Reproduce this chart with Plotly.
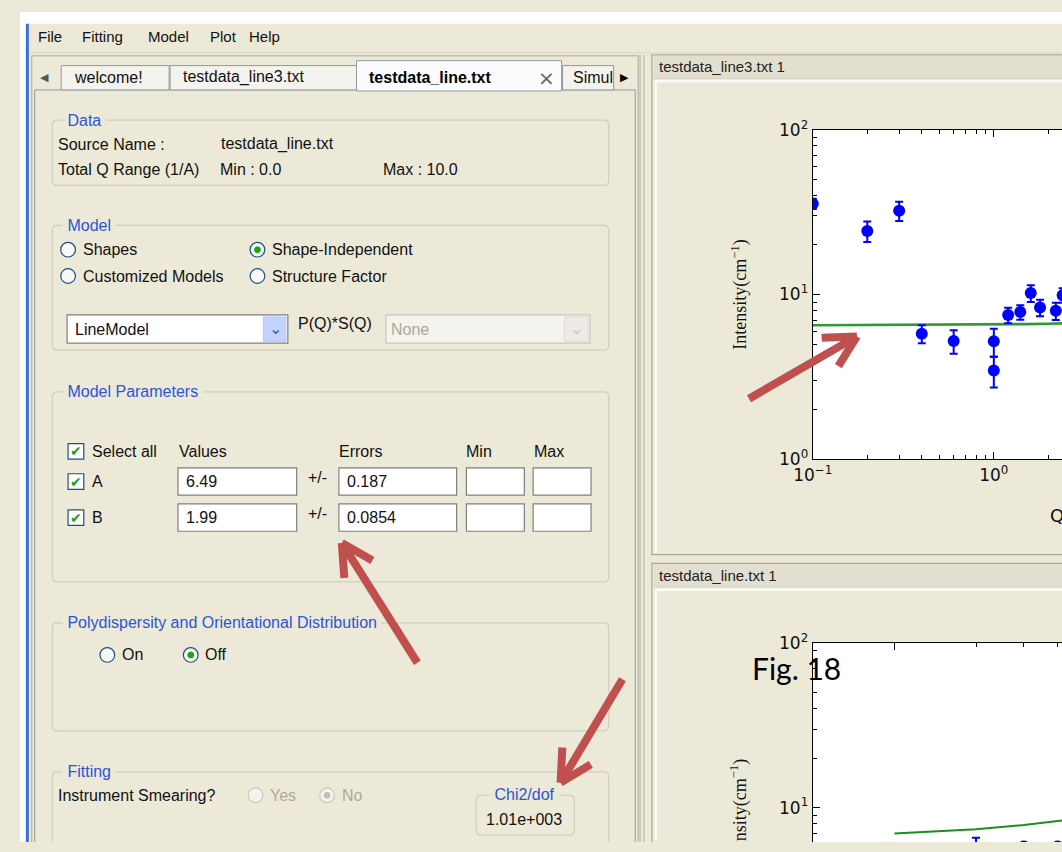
import math
import plotly.graph_objects as go

W, H = 1062, 852
BEIGE = "#ECE9D8"
GUI_BLUE = "#2b55d6"
RED = "#C0504D"
GUI_FONT = "Liberation Sans"
TICK_FONT = "DejaVu Sans"

# testdata_line3.txt (top plot)
line3_q = [0.1, 0.2, 0.3, 0.4, 0.6, 1.0, 1.0, 1.2, 1.4, 1.6, 1.8, 2.2, 2.4]
line3_i = [35.6, 24.3, 32.3, 5.78, 5.22, 5.2, 3.45, 7.5, 7.82, 10.2, 8.34, 7.96, 9.9]
line3_err = [2.5, 3.45, 4.3, 0.72, 0.85, 1.0, 0.73, 0.8, 0.8, 1.2, 0.95, 0.95, 1.0]
fit3_q = [0.1, 0.5, 1.0, 1.5, 2.0, 2.5]
fit3_i = [6.50, 6.53, 6.57, 6.61, 6.65, 6.69]

# testdata_line.txt (bottom plot)
line_q = [2.0, 3.0, 4.0]
line_i = [5.7, 5.8, 5.8]
line_err = [0.86, 0.3, 0.3]
fit_q = [1.0, 2.0, 3.0, 4.0, 4.2]
fit_i = [6.96, 7.40, 7.84, 8.28, 8.37]

y_major = [1, 10, 100]
y_major_text = ["10<sup>0</sup>", "10<sup>1</sup>", "10<sup>2</sup>"]
y_minor = [2, 3, 4, 5, 6, 7, 8, 9, 20, 30, 40, 50, 60, 70, 80, 90]


def px(x):
    return x / W


def py(y):
    return 1 - y / H


shapes = []
annos = []


def rect(x0, y0, x1, y1, line="#b9b7a8", fill="rgba(0,0,0,0)", width=1, layer="below"):
    shapes.append(dict(type="rect", xref="paper", yref="paper",
                       x0=px(x0), x1=px(x1), y0=py(y1), y1=py(y0),
                       line=dict(color=line, width=width), fillcolor=fill, layer=layer))


def poly(points, color, width=1, layer="below"):
    # open polyline, used for frames that run off the window edge
    p = "M " + " L ".join(f"{px(x)},{py(y)}" for x, y in points)
    shapes.append(dict(type="path", xref="paper", yref="paper", path=p,
                       line=dict(color=color, width=width), layer=layer))


def rrect(x0, y0, x1, y1, r=5, line="#d0cebd", width=1.2, open_bottom=False):
    # rounded group box
    if open_bottom:
        p = (f"M {px(x0)},{py(y1)} L {px(x0)},{py(y0 + r)} Q {px(x0)},{py(y0)} {px(x0 + r)},{py(y0)} "
             f"L {px(x1 - r)},{py(y0)} Q {px(x1)},{py(y0)} {px(x1)},{py(y0 + r)} L {px(x1)},{py(y1)}")
    else:
        p = (f"M {px(x0 + r)},{py(y0)} L {px(x1 - r)},{py(y0)} Q {px(x1)},{py(y0)} {px(x1)},{py(y0 + r)} "
             f"L {px(x1)},{py(y1 - r)} Q {px(x1)},{py(y1)} {px(x1 - r)},{py(y1)} "
             f"L {px(x0 + r)},{py(y1)} Q {px(x0)},{py(y1)} {px(x0)},{py(y1 - r)} "
             f"L {px(x0)},{py(y0 + r)} Q {px(x0)},{py(y0)} {px(x0 + r)},{py(y0)} Z")
    shapes.append(dict(type="path", xref="paper", yref="paper", path=p,
                       line=dict(color=line, width=width), layer="below"))


def seg(x0, y0, x1, y1, color, width=1, layer="below"):
    shapes.append(dict(type="line", xref="paper", yref="paper",
                       x0=px(x0), x1=px(x1), y0=py(y0), y1=py(y1),
                       line=dict(color=color, width=width), layer=layer))


def circle(cx, cy, r, line, fill, width=1):
    shapes.append(dict(type="circle", xref="paper", yref="paper",
                       x0=px(cx - r), x1=px(cx + r), y0=py(cy + r), y1=py(cy - r),
                       line=dict(color=line, width=width), fillcolor=fill, layer="below"))


def text(x, y, s, size=16, color="#111111", anchor="left", family=GUI_FONT, bg=None, angle=0, yanchor="middle"):
    annos.append(dict(x=px(x), y=py(y), xref="paper", yref="paper", text=s, showarrow=False,
                      xanchor=anchor, yanchor=yanchor, textangle=angle, borderpad=0,
                      bgcolor=bg, font=dict(family=family, size=size, color=color)))


def group(x0, y0, x1, y1, label, open_bottom=False):
    rrect(x0, y0, x1, y1, open_bottom=open_bottom)
    text(x0 + 10, y0, " " + label + " ", color=GUI_BLUE, bg=BEIGE)


def radio(cx, cy, label, on=False, enabled=True):
    edge = "#1c5180" if enabled else "#c9c7ba"
    circle(cx, cy, 7.5, edge, "#f8f8f4" if enabled else "#f4f3ee", 1.2)
    if on:
        circle(cx, cy, 3, "#21a121" if enabled else "#c0bfb5", "#21a121" if enabled else "#c0bfb5")
    text(cx + 14, cy, label, color="#111111" if enabled else "#aca899")


def checkbox(cx, cy, label):
    rect(cx - 8, cy - 8, cx + 8, cy + 8, line="#1c5180", fill="white", width=1.2)
    text(cx, cy, "✔", size=14, color="#21a121", anchor="center", family="DejaVu Sans")
    text(cx + 15, cy, label)


def entry(x0, y0, x1, y1, value=""):
    rect(x0, y0, x1, y1, line="#7f7f7f", fill="white", width=1.2)
    if value:
        text(x0 + 7, (y0 + y1) / 2, value)


def arrow(tail, tip, head=36, ang=28):
    seg(tail[0], tail[1], tip[0], tip[1], RED, 8, "above")
    dx, dy = tail[0] - tip[0], tail[1] - tip[1]
    n = math.hypot(dx, dy)
    ux, uy = dx / n, dy / n
    for s in (1, -1):
        a = math.radians(s * ang)
        rx = ux * math.cos(a) - uy * math.sin(a)
        ry = ux * math.sin(a) + uy * math.cos(a)
        seg(tip[0], tip[1], tip[0] + head * rx, tip[1] + head * ry, RED, 8, "above")


# window frame
rect(0, 0, W, 12, line="white", fill="white", width=0)
rect(0, 0, 6, H, line="white", fill="white", width=0)
rect(6, 12, 9, H, line="#3a6fd8", fill="#3a6fd8", width=0)

# menu bar
for label, x in [("File", 17), ("Fitting", 62), ("Model", 129), ("Plot", 193), ("Help", 232)]:
    text(x, 25, label, size=15)
seg(9, 42, W - 1, 42, "#d8d5c4", 1)

# left panel + tabs
poly([(12, H), (12, 45), (630, 45), (630, H)], "#aca899")
poly([(15, H), (15, 80), (627, 80), (627, H)], "#919b9c")
text(25, 67, "◀", size=11, color="#555555", anchor="center", family="DejaVu Sans")
rect(42, 55, 152, 80, line="#919b9c", fill="#f4f3ee")
text(54, 67, "welcome!")
rect(153, 55, 343, 80, line="#919b9c", fill="#f4f3ee")
text(165, 67, "testdata_line3.txt")
rect(343, 50, 552, 81, line="#919b9c", fill="#fcfcfe")
text(355, 67, "<b>testdata_line.txt</b>", size=16, color="#000000")
text(537, 68, "×", size=20, color="#666666", anchor="center", family="DejaVu Sans")
rect(553, 55, 605, 80, line="#919b9c", fill="#f4f3ee")
text(563, 67, "Simul")
text(616, 67, "▶", size=11, color="#000000", anchor="center", family="DejaVu Sans")

# Data group
group(33, 111, 600, 178, "Data")
text(38, 136, "Source Name :")
text(204, 136, "testdata_line.txt")
text(38, 162, "Total Q Range (1/A)")
text(203, 162, "Min : 0.0")
text(369, 162, "Max : 10.0")

# Model group
group(33, 219, 600, 347, "Model")
radio(49, 244, "Shapes")
radio(242, 244, "Shape-Independent", on=True)
radio(49, 271, "Customized Models")
radio(242, 271, "Structure Factor")
entry(48, 311, 273, 340, "LineModel")
rect(248, 313, 271, 338, line="#b4c8f6", fill="#c3d3fd")
text(260, 325, "⌄", size=16, color="#4d6185", anchor="center", family="DejaVu Sans")
text(282, 320, "P(Q)*S(Q)")
rect(373, 311, 581, 340, line="#c9c7ba", fill="#f4f3ee", width=1.2)
rect(555, 313, 579, 338, line="#dedcd2", fill="#ecebe5")
text(567, 325, "⌄", size=16, color="#c9c7ba", anchor="center", family="DejaVu Sans")
text(377, 326, "None", color="#aca899")

# Model Parameters group
group(33, 390, 600, 585, "Model Parameters")
checkbox(57, 451, "Select all")
text(161, 451, "Values")
text(324, 451, "Errors")
text(454, 451, "Min")
text(523, 451, "Max")
for name, val, err, yc in [("A", "6.49", "0.187", 482), ("B", "1.99", "0.0854", 519)]:
    checkbox(57, yc, name)
    entry(161, yc - 14, 282, yc + 14, val)
    text(292, yc - 4, "+/-")
    entry(325, yc - 14, 445, yc + 14, err)
    entry(455, yc - 14, 514, yc + 14)
    entry(523, yc - 14, 582, yc + 14)

# Polydispersity group
group(33, 627, 600, 738, "Polydispersity and Orientational Distribution")
radio(89, 660, "On")
radio(174, 660, "Off", on=True)

# Fitting group (runs off the bottom of the window)
group(33, 780, 600, H, "Fitting", open_bottom=True)
text(38, 804, "Instrument Smearing?")
radio(240, 804, "Yes", enabled=False)
radio(313, 804, "No", on=True, enabled=False)
rrect(465, 804, 565, 845)
text(514, 803, " Chi2/dof ", color=GUI_BLUE, anchor="center", bg=BEIGE)
text(514, 829, "1.01e+003", anchor="center")

# splitter
seg(632, 44, 632, H, "#c5c2b2", 1.5)
seg(636, 44, 636, H, "#c5c2b2", 1.5)

# plot panels (title bars + frames), both cut by the right window edge
for y0, y1, title in [(44, 557, "testdata_line3.txt 1"), (566, H, "testdata_line.txt 1")]:
    poly([(W, y0), (644, y0), (644, y1)] + ([(W, y1)] if y1 < H else []), "#aca899", 1.2)
    rect(645, y0 + 1, W, y0 + 24, line="#e2dfd1", fill="#e2dfd1", width=0)
    seg(645, y0 + 24, W, y0 + 24, "#d6d3c4", 1)
    text(650, y0 + 12, title, size=15, color="#222222")
    seg(648, y0 + 27, W, y0 + 27, "white", 2)
    seg(648, y0 + 27, 648, y1 - 2, "white", 2)

# axis titles (the window cuts the lower one and the Q label)
text(733, 290, "Intensity(cm<sup>−1</sup>)", size=18, anchor="center", family="Liberation Serif", angle=-90)
text(733, H, "nsity(cm<sup>−1</sup>)", size=18, anchor="center", family="Liberation Serif", angle=-90,
     yanchor="bottom")
text(1049, 517, "Q", size=18, family=TICK_FONT)

# callouts
arrow((743, 397), (853, 333))
arrow((405, 668), (328, 545))
arrow((614, 685), (551, 791))
text(791, 673, "Fig. 18", size=30, color="#000000", anchor="center", family="Lato")

fig = go.Figure()

# top plot
fig.add_trace(go.Scatter(x=fit3_q, y=fit3_i, mode="lines", line=dict(color="#2f9a35", width=2.6),
                         xaxis="x", yaxis="y", showlegend=False))
fig.add_trace(go.Scatter(x=line3_q, y=line3_i, mode="markers", xaxis="x", yaxis="y",
                         marker=dict(color="#0000ff", size=12),
                         error_y=dict(type="data", array=line3_err, color="#0000ff", thickness=2, width=4),
                         showlegend=False))

# bottom plot
fig.add_trace(go.Scatter(x=fit_q, y=fit_i, mode="lines", line=dict(color="#1b8f1f", width=2),
                         xaxis="x2", yaxis="y2", showlegend=False))
fig.add_trace(go.Scatter(x=line_q, y=line_i, mode="markers", xaxis="x2", yaxis="y2",
                         marker=dict(color="#0000ff", size=12),
                         error_y=dict(type="data", array=line_err, color="#0000ff", thickness=2, width=4),
                         showlegend=False))

axis_common = dict(showgrid=False, zeroline=False, showline=True, linecolor="black", linewidth=1.3,
                   ticks="inside", ticklen=7, tickcolor="black", tickwidth=1,
                   tickfont=dict(family=TICK_FONT, size=17, color="#111111"))

fig.update_layout(
    width=W, height=H,
    margin=dict(l=0, r=0, t=0, b=0),
    paper_bgcolor=BEIGE, plot_bgcolor="white",
    xaxis=dict(axis_common, type="log", range=[-1, math.log10(2.38)], domain=[px(808), 1], anchor="y",
               mirror="ticks", tickmode="array", tickvals=[0.1, 1], ticktext=["10<sup>−1</sup>", "10<sup>0</sup>"],
               minor=dict(tickmode="array", tickvals=[0.2, 0.3, 0.4, 0.5, 0.6, 0.7, 0.8, 0.9, 2],
                          ticks="inside", ticklen=4, tickcolor="black")),
    yaxis=dict(axis_common, type="log", range=[0, 2], domain=[py(459), py(121)], anchor="x",
               tickmode="array", tickvals=y_major, ticktext=y_major_text,
               minor=dict(tickmode="array", tickvals=y_minor, ticks="inside", ticklen=4, tickcolor="black")),
    xaxis2=dict(axis_common, type="log", range=[math.log10(0.5), math.log10(4.15)], domain=[px(808), 1],
                anchor="y2", side="top", showticklabels=False, tickmode="array", tickvals=[1],
                minor=dict(tickmode="array", tickvals=[2, 3, 4], ticks="inside", ticklen=4, tickcolor="black")),
    yaxis2=dict(axis_common, type="log", range=[0.791, 2], domain=[0, py(648)], anchor="x2",
                tickmode="array", tickvals=y_major, ticktext=y_major_text,
                minor=dict(tickmode="array", tickvals=y_minor, ticks="inside", ticklen=4, tickcolor="black")),
    shapes=shapes,
    annotations=annos,
)

fig.write_html("out.html", config={"displayModeBar": False},
               post_script="document.body.style.margin='0';document.body.style.overflow='hidden';")
